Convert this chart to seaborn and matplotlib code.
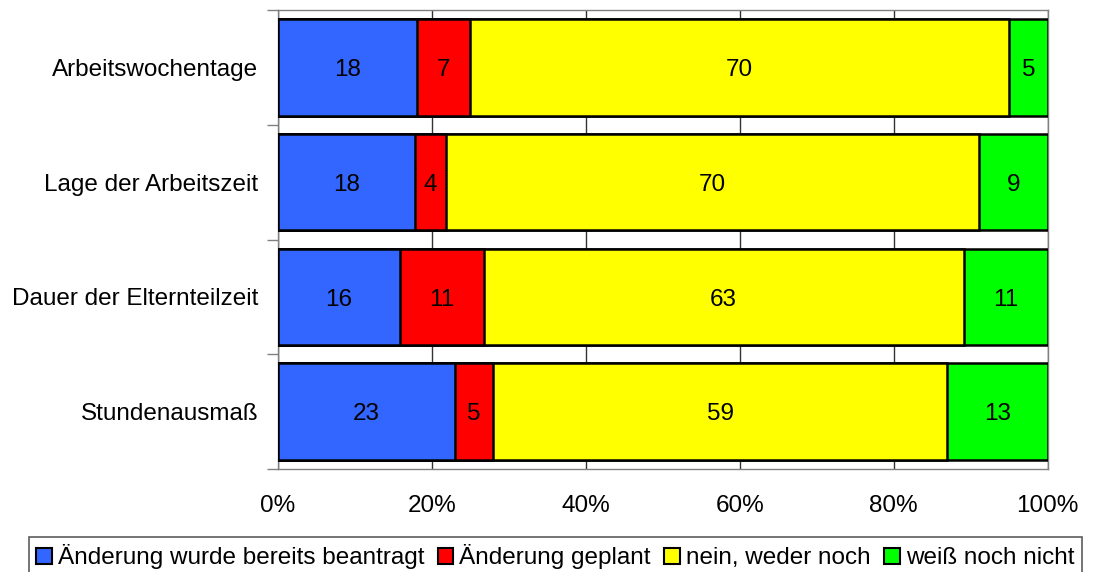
import pandas as pd
import numpy as np
import matplotlib.pyplot as plt
import seaborn as sns
from matplotlib.ticker import FixedLocator, PercentFormatter

sns.set_theme(style='white')
plt.rcParams['font.family'] = ['Liberation Sans', 'DejaVu Sans']
plt.rcParams['text.color'] = 'black'

# Data
categories = ['Arbeitswochentage', 'Lage der Arbeitszeit', 'Dauer der Elternteilzeit', 'Stundenausmaß']
series = ['Änderung wurde bereits beantragt', 'Änderung geplant', 'nein, weder noch', 'weiß noch nicht']
beantragt = [18, 18, 16, 23]
geplant = [7, 4, 11, 5]
weder_noch = [70, 70, 63, 59]
weiss_nicht = [5, 9, 11, 13]
colors = ['#3366FF', '#FF0000', '#FFFF00', '#00FF00']

df = pd.DataFrame({'kategorie': categories,
                   series[0]: beantragt,
                   series[1]: geplant,
                   series[2]: weder_noch,
                   series[3]: weiss_nicht})
vals = df[series]
# 100% stacked: normalise each row
pct = vals.div(vals.sum(axis=1), axis=0) * 100
cum = pct.cumsum(axis=1)

fig = plt.figure(figsize=(10.95, 5.72), dpi=100)
ax = fig.add_axes([278 / 1095, 1 - 469 / 572, 769.5 / 1095, 459 / 572])

# draw cumulative layers from the widest to the narrowest
for i in range(len(series) - 1, -1, -1):
    sns.barplot(x=cum[series[i]], y=df['kategorie'], color=colors[i], orient='h',
                width=0.84, edgecolor='black', linewidth=1.8, saturation=1,
                ax=ax, zorder=3)

# value labels
for r in range(len(categories)):
    for i, s in enumerate(series):
        center = cum.iloc[r, i] - pct.iloc[r, i] / 2
        ax.text(center, r + 0.025, str(vals.iloc[r, i]), ha='center', va='center',
                fontsize=17.5, color='black', zorder=4)

ax.set_xlim(0, 100)
ax.set_ylim(3.5, -0.5)
ax.set_xticks([0, 20, 40, 60, 80, 100])
ax.xaxis.set_major_formatter(PercentFormatter(decimals=0))
ax.grid(axis='x', color='#333333', linewidth=1, zorder=0)
ax.set_axisbelow(True)
ax.set_xlabel('')
ax.set_ylabel('')

ax.tick_params(axis='x', length=0, pad=19, labelsize=17.5, labelcolor='black')
ax.tick_params(axis='y', which='major', length=0, pad=14, labelsize=17.5, labelcolor='black')
ax.yaxis.set_minor_locator(FixedLocator(np.arange(-0.5, 4, 1)))
ax.tick_params(axis='y', which='minor', length=8, width=1, color='#808080', left=True)
ax.xaxis.set_minor_locator(FixedLocator([0, 100]))
ax.tick_params(axis='x', which='minor', length=8, width=1, color='#808080', bottom=True)

for sp in ax.spines.values():
    sp.set_visible(True)
    sp.set_color('#808080')
    sp.set_linewidth(1)

handles = [plt.Rectangle((0, 0), 1, 1, facecolor=c, edgecolor='black', linewidth=1.5) for c in colors]
leg = fig.legend(handles, series, loc='upper center', bbox_to_anchor=(0.507, 1 - 537 / 572),
                 ncol=4, fontsize=17.5, frameon=True, fancybox=False,
                 handlelength=0.65, handleheight=0.65, handletextpad=0.25,
                 columnspacing=0.55, borderpad=0.3, borderaxespad=0)
leg.get_frame().set_edgecolor('#333333')
leg.get_frame().set_linewidth(1.2)

fig.savefig('out.png', dpi=100)
